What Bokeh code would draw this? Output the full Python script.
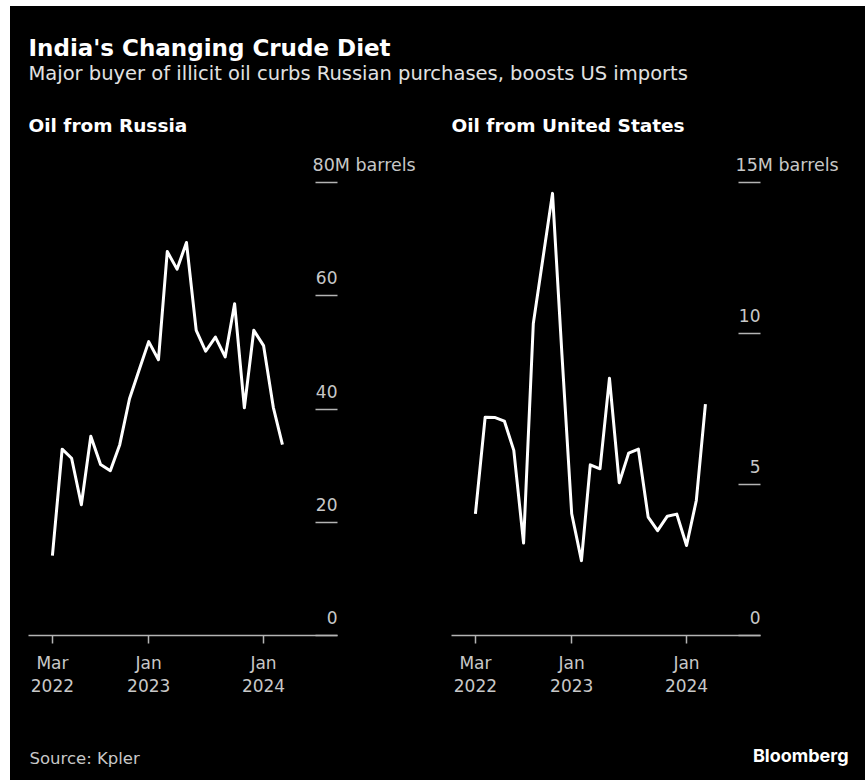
import pandas as pd
from bokeh.plotting import figure
from bokeh.layouts import column, row
from bokeh.models import Range1d, FixedTicker, Label
from bokeh.embed import file_html
from bokeh.resources import INLINE

# ---------------- data ----------------
months = ["2022-03", "2022-04", "2022-05", "2022-06", "2022-07", "2022-08",
          "2022-09", "2022-10", "2022-11", "2022-12", "2023-01", "2023-02",
          "2023-03", "2023-04", "2023-05", "2023-06", "2023-07", "2023-08",
          "2023-09", "2023-10", "2023-11", "2023-12", "2024-01", "2024-02",
          "2024-03"]

russia = [14.1, 32.9, 31.3, 23.1, 35.2, 30.2, 29.1, 33.7, 41.8, 46.8,
          51.9, 48.7, 67.8, 64.7, 69.4, 53.9, 50.2, 52.7, 49.2, 58.6,
          40.2, 53.9, 51.2, 40.3, 33.7]

us = [4.03, 7.23, 7.22, 7.10, 6.13, 3.06, 10.33, 12.45, 14.64, 9.30,
      4.03, 2.48, 5.65, 5.52, 8.52, 5.06, 6.04, 6.17, 3.92, 3.47,
      3.95, 4.02, 2.98, 4.47, 7.66]

x_tick_months = ["2022-03", "2023-01", "2024-01"]
x_tick_labels = ["Mar\n2022", "Jan\n2023", "Jan\n2024"]

russia_ticks = [0, 20, 40, 60, 80]
us_ticks = [0, 5, 10, 15]
unit_suffix = "M barrels"

title = "India's Changing Crude Diet"
subtitle = "Major buyer of illicit oil curbs Russian purchases, boosts US imports"
panel_titles = ["Oil from Russia", "Oil from United States"]
source = "Source: Kpler"
brand = "Bloomberg"

# ---------------- styling ----------------
FONT = "DejaVu Sans"
BG = "black"
AX = "#b4b4b4"
TXT = "#c8c8c8"


def ms(s):
    return pd.Timestamp(s).value / 1e6


x_start = ms("2021-12-15")
x_end = ms("2024-08-23")
dates = pd.to_datetime(months)


def panel(values, ticks, width, left_b, right_b):
    top = ticks[-1] * 459.0 / 453.0
    p = figure(width=width, height=562, x_axis_type="datetime",
               y_axis_location="right",
               x_range=Range1d(x_start, x_end), y_range=Range1d(0, top),
               output_backend="svg", toolbar_location=None,
               min_border_left=left_b, min_border_right=right_b,
               min_border_top=28, min_border_bottom=75,
               background_fill_color=BG, border_fill_color=BG,
               outline_line_color=None)
    p.grid.visible = False

    # top tick label with unit, drawn as the figure title just above the frame
    p.title.text = f"{ticks[-1]}{unit_suffix}"
    p.title.align = "left"
    p.title.offset = 309 - 25
    p.title.standoff = 3
    p.title.text_font = FONT
    p.title.text_font_style = "normal"
    p.title.text_font_size = "17.5px"
    p.title.text_color = TXT

    xa = p.xaxis[0]
    tick_vals = [ms(m) for m in x_tick_months]
    xa.ticker = FixedTicker(ticks=tick_vals)
    xa.major_label_overrides = {v: lab for v, lab in zip(tick_vals, x_tick_labels)}
    xa.axis_line_color = AX
    xa.axis_line_width = 1.5
    xa.major_tick_line_color = AX
    xa.major_tick_line_width = 1.5
    xa.major_tick_in = 0
    xa.major_tick_out = 8
    xa.minor_tick_line_color = None
    xa.major_label_text_font = FONT
    xa.major_label_text_font_size = "17px"
    xa.major_label_text_color = TXT
    xa.major_label_text_line_height = 1.16
    xa.major_label_standoff = 9

    ya = p.yaxis[0]
    ya.ticker = FixedTicker(ticks=ticks)
    ya.axis_line_color = None
    ya.major_tick_line_color = AX
    ya.major_tick_line_width = 1.5
    ya.major_tick_in = 22
    ya.major_tick_out = 0
    ya.minor_tick_line_color = None
    ya.major_label_text_font_size = "0px"
    ya.major_label_text_color = None

    for t in ticks[:-1]:
        p.add_layout(Label(x=x_end, y=t, text=str(t), text_align="right",
                           text_baseline="alphabetic", y_offset=18,
                           text_font=FONT, text_font_size="17px",
                           text_color=TXT))

    p.line(x=dates, y=values, line_color="white", line_width=3,
           line_join="round")
    return p


p1 = panel(russia, russia_ticks, 427, 18, 100)
p2 = panel(us, us_ticks, 428, 14, 105)

# header
h = figure(width=855, height=142, x_range=Range1d(0, 855), y_range=Range1d(0, 142),
           x_axis_location=None, y_axis_location=None, min_border=0,
           output_backend="svg", toolbar_location=None,
           background_fill_color=BG, border_fill_color=BG, outline_line_color=None)
h.grid.visible = False
h.add_layout(Label(x=18, y=101, text=title, text_font=FONT, text_font_style="bold",
                   text_font_size="23px", text_color="white",
                   text_baseline="alphabetic"))
h.add_layout(Label(x=18, y=75, text=subtitle, text_font=FONT,
                   text_font_size="19.5px", text_color="#e2e2e2",
                   text_baseline="alphabetic"))
for xx, t in zip([18, 441], panel_titles):
    h.add_layout(Label(x=xx, y=23, text=t, text_font=FONT, text_font_style="bold",
                       text_font_size="18.5px", text_color="white",
                       text_baseline="alphabetic"))

# footer
f = figure(width=855, height=70, x_range=Range1d(0, 855), y_range=Range1d(0, 70),
           x_axis_location=None, y_axis_location=None, min_border=0,
           output_backend="svg", toolbar_location=None,
           background_fill_color=BG, border_fill_color=BG, outline_line_color=None)
f.grid.visible = False
f.add_layout(Label(x=19, y=22, text=source, text_font=FONT, text_font_size="16.5px",
                   text_color=TXT, text_baseline="alphabetic"))
f.add_layout(Label(x=838, y=25, text=brand, text_font="Inter", text_font_style="bold",
                   text_font_size="18px", text_color="white", text_align="right",
                   text_baseline="alphabetic"))

panels = row(p1, p2, spacing=0, styles={"background-color": "black"})
layout = column(h, panels, f, spacing=0,
                styles={"background-color": "black", "margin-left": "10px",
                        "margin-top": "6px"})
open("out.html", "w").write(file_html(layout, INLINE))
